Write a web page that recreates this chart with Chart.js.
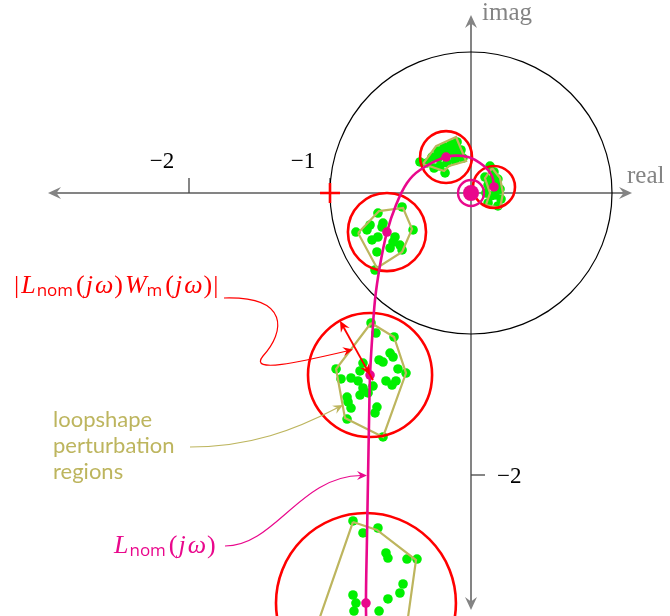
<!DOCTYPE html>
<html>
<head>
<meta charset="utf-8">
<script src="https://cdn.jsdelivr.net/npm/chart.js@4.4.0/dist/chart.umd.min.js"></script>
<style>
  html, body { margin: 0; padding: 0; background: #fff; }
  #wrap { width: 670px; height: 616px; }
</style>
</head>
<body>
<div id="wrap"><canvas id="nyquist" width="670" height="616"></canvas></div>
<script>
// nominal loop L_nom(jw): frequencies where the uncertainty disc is shown
var nomPoints = [
  [-0.177, 0.255], [0.163, 0.043], [-0.596, -0.277], [-0.716, -1.291], [-0.745, -2.908]
];
// |L_nom W_m| at those frequencies (disc radius)
var discRadius = [0.184, 0.149, 0.277, 0.440, 0.638];
var endRadius = 0.092;

// the nominal Nyquist curve, from low to high frequency
var nomCurve = [
  [-0.738, -3.241], [-0.745, -2.908], [-0.738, -2.461], [-0.730, -2.000], [-0.723, -1.610],
  [-0.716, -1.291], [-0.702, -1.043], [-0.681, -0.759], [-0.645, -0.511], [-0.596, -0.277],
  [-0.532, -0.085], [-0.454, 0.071], [-0.362, 0.163], [-0.177, 0.255], [-0.021, 0.255],
  [0.092, 0.191], [0.149, 0.121], [0.163, 0.043]
];

// perturbed plants, sampled at the same frequencies
var perturbed = [
  // around -0.18+0.26j
  [-0.362, 0.220], [-0.312, 0.213], [-0.277, 0.255], [-0.234, 0.298], [-0.191, 0.326],
  [-0.142, 0.348], [-0.099, 0.362], [-0.071, 0.305], [-0.057, 0.248], [-0.113, 0.234],
  [-0.170, 0.213], [-0.220, 0.191], [-0.184, 0.142], [-0.262, 0.177], [-0.135, 0.291],
  [-0.177, 0.291], [-0.092, 0.291], [-0.234, 0.248], [-0.205, 0.270], [-0.120, 0.320],
  // around 0.16+0.04j
  [0.135, 0.191], [0.163, 0.149], [0.191, 0.099], [0.206, 0.028], [0.213, -0.043],
  [0.191, -0.092], [0.121, -0.071], [0.142, -0.021], [0.121, 0.057], [0.099, 0.113],
  [0.170, -0.014], [0.106, 0.000], [0.185, 0.060], [0.150, 0.095],
  // around -0.60-0.28j
  [-0.489, -0.099], [-0.660, -0.142], [-0.716, -0.227], [-0.624, -0.213], [-0.816, -0.277],
  [-0.738, -0.262], [-0.660, -0.312], [-0.539, -0.312], [-0.411, -0.262], [-0.504, -0.369],
  [-0.574, -0.390], [-0.667, -0.418], [-0.489, -0.404], [-0.553, -0.348], [-0.681, -0.546],
  [-0.631, -0.241], [-0.702, -0.333],
  // around -0.72-1.29j
  [-0.709, -0.922], [-0.674, -0.993], [-0.546, -1.021], [-0.574, -1.135], [-0.553, -1.163],
  [-0.652, -1.184], [-0.624, -1.199], [-0.766, -1.206], [-0.787, -1.262], [-0.957, -1.248],
  [-0.922, -1.319], [-0.851, -1.312], [-0.801, -1.333], [-0.518, -1.248], [-0.461, -1.277],
  [-0.603, -1.333], [-0.532, -1.333], [-0.560, -1.362], [-0.695, -1.369], [-0.766, -1.383],
  [-0.787, -1.433], [-0.879, -1.447], [-0.872, -1.482], [-0.851, -1.525], [-0.667, -1.518],
  [-0.681, -1.560], [-0.879, -1.603], [-0.624, -1.730], [-0.730, -1.418],
  // around -0.75-2.91j
  [-0.837, -2.326], [-0.766, -2.411], [-0.660, -2.376], [-0.603, -2.553], [-0.589, -2.589],
  [-0.454, -2.596], [-0.383, -2.596], [-0.482, -2.773], [-0.504, -2.837], [-0.589, -2.879],
  [-0.837, -2.851], [-0.816, -2.908], [-0.830, -2.965], [-0.652, -2.965]
];

// loopshape perturbation regions (hulls of the perturbed points)
var regions = [
  [[-0.340, 0.206], [-0.248, 0.333], [-0.106, 0.397], [-0.035, 0.227], [-0.156, 0.191], [-0.191, 0.156], [-0.340, 0.206]],
  [[0.149, 0.177], [0.206, 0.106], [0.227, 0.000], [0.206, -0.106], [0.106, -0.085], [0.135, 0.000], [0.099, 0.106], [0.149, 0.177]],
  [[-0.801, -0.284], [-0.652, -0.128], [-0.482, -0.106], [-0.418, -0.255], [-0.489, -0.418], [-0.667, -0.532], [-0.801, -0.284]],
  [[-0.709, -0.922], [-0.546, -1.021], [-0.461, -1.277], [-0.624, -1.730], [-0.894, -1.596], [-0.957, -1.248], [-0.709, -0.922]],
  [[-0.837, -2.333], [-0.667, -2.390], [-0.390, -2.603], [-0.489, -3.312], [-1.177, -3.312], [-0.837, -2.333]]
];

var realTicks = [-2, -1];
var realTickLabels = ["\u22122", "\u22121"];
var imagTicks = [-2];
var imagTickLabels = ["\u22122"];

var MAGENTA = "#e9088c";
var OLIVE = "#bdb55e";
var GREEN = "#00f000";
var RED = "#ff0000";
var GRAY = "#848484";

function pts(list) { return list.map(function (p) { return {x: p[0], y: p[1]}; }); }

function head(ctx, x, y, ang, len, wid, color) {
  ctx.save();
  ctx.translate(x, y);
  ctx.rotate(ang);
  ctx.beginPath();
  ctx.moveTo(0, 0);
  ctx.lineTo(-len, -wid);
  ctx.lineTo(-len * 0.65, 0);
  ctx.lineTo(-len, wid);
  ctx.closePath();
  ctx.fillStyle = color;
  ctx.fill();
  ctx.restore();
}

function runs(ctx, x, y, parts, color) {
  ctx.fillStyle = color;
  ctx.textAlign = "left";
  ctx.textBaseline = "alphabetic";
  parts.forEach(function (r) {
    ctx.font = r[1];
    ctx.fillText(r[0], x, y + (r[2] || 0));
    x += ctx.measureText(r[0]).width + (r[3] || 0);
  });
}

var nyquistDeco = {
  id: "nyquistDeco",
  beforeDatasetsDraw: function (chart) {
    var ctx = chart.ctx, sx = chart.scales.x, sy = chart.scales.y;
    var x0 = sx.getPixelForValue(0), y0 = sy.getPixelForValue(0);
    var unit = sx.getPixelForValue(1) - x0;
    ctx.save();
    // axes
    ctx.strokeStyle = GRAY;
    ctx.lineWidth = 2;
    var left = sx.getPixelForValue(-3.0), right = sx.getPixelForValue(1.142);
    var top = sy.getPixelForValue(1.262), bottom = sy.getPixelForValue(-2.957);
    ctx.beginPath();
    ctx.moveTo(left + 6, y0); ctx.lineTo(right - 6, y0);
    ctx.moveTo(x0, top + 6); ctx.lineTo(x0, bottom - 6);
    ctx.stroke();
    head(ctx, right, y0, 0, 13, 6, GRAY);
    head(ctx, left, y0, Math.PI, 13, 6, GRAY);
    head(ctx, x0, top, -Math.PI / 2, 13, 6, GRAY);
    head(ctx, x0, bottom, Math.PI / 2, 13, 6, GRAY);
    // ticks
    ctx.lineWidth = 1.3;
    ctx.strokeStyle = "#444";
    realTicks.forEach(function (t) {
      var x = sx.getPixelForValue(t);
      ctx.beginPath(); ctx.moveTo(x, y0); ctx.lineTo(x, y0 - 15); ctx.stroke();
    });
    imagTicks.forEach(function (t) {
      var y = sy.getPixelForValue(t);
      ctx.beginPath(); ctx.moveTo(x0, y); ctx.lineTo(x0 + 14, y); ctx.stroke();
    });
    // axis texts
    ctx.fillStyle = GRAY;
    ctx.font = '25px "Liberation Serif"';
    ctx.textAlign = "left";
    ctx.textBaseline = "alphabetic";
    ctx.fillText("imag", x0 + 11, 20);
    ctx.fillText("real", right - 5, y0 - 10);
    ctx.fillStyle = "#000";
    ctx.font = '23px "Liberation Serif"';
    ctx.textAlign = "center";
    realTicks.forEach(function (t, i) {
      ctx.fillText(realTickLabels[i], sx.getPixelForValue(t) - 27, y0 - 25);
    });
    ctx.textAlign = "left";
    imagTicks.forEach(function (t, i) {
      ctx.fillText(imagTickLabels[i], x0 + 26, sy.getPixelForValue(t) + 8);
    });
    // unit circle
    ctx.strokeStyle = "#000";
    ctx.lineWidth = 1.2;
    ctx.beginPath();
    ctx.arc(x0, y0, unit, 0, Math.PI * 2);
    ctx.stroke();
    ctx.restore();
  },
  afterDatasetDraw: function (chart, args) {
    // uncertainty discs go over the regions, under the nominal curve
    if (args.index !== 3) return;
    var ctx = chart.ctx, sx = chart.scales.x, sy = chart.scales.y;
    var unit = sx.getPixelForValue(1) - sx.getPixelForValue(0);
    ctx.save();
    ctx.strokeStyle = RED;
    ctx.lineWidth = 2.6;
    nomPoints.forEach(function (p, i) {
      ctx.beginPath();
      ctx.arc(sx.getPixelForValue(p[0]), sy.getPixelForValue(p[1]), discRadius[i] * unit, 0, Math.PI * 2);
      ctx.stroke();
    });
    ctx.restore();
  },
  afterDatasetsDraw: function (chart) {
    var ctx = chart.ctx, sx = chart.scales.x, sy = chart.scales.y;
    var x0 = sx.getPixelForValue(0), y0 = sy.getPixelForValue(0);
    var unit = sx.getPixelForValue(1) - x0;
    ctx.save();
    // ring around the high-frequency end
    ctx.strokeStyle = MAGENTA;
    ctx.lineWidth = 2.4;
    ctx.beginPath();
    ctx.arc(x0, y0, endRadius * unit, 0, Math.PI * 2);
    ctx.stroke();
    // critical point -1
    var cx = sx.getPixelForValue(-1);
    ctx.strokeStyle = RED;
    ctx.lineWidth = 2.6;
    ctx.beginPath();
    ctx.moveTo(cx - 10, y0); ctx.lineTo(cx + 10, y0);
    ctx.moveTo(cx, y0 - 10); ctx.lineTo(cx, y0 + 10);
    ctx.stroke();
    // radius arrow on the fourth disc
    var c = nomPoints[3];
    var ax = sx.getPixelForValue(c[0]), ay = sy.getPixelForValue(c[1]);
    var ang = -119 * Math.PI / 180;
    var r = discRadius[3] * unit;
    var bx = ax + r * Math.cos(ang), by = ay + r * Math.sin(ang);
    ctx.lineWidth = 1.8;
    ctx.beginPath();
    ctx.moveTo(ax - 6 * Math.cos(ang), ay - 6 * Math.sin(ang));
    ctx.lineTo(bx - 6 * Math.cos(ang), by - 6 * Math.sin(ang));
    ctx.stroke();
    head(ctx, bx, by, ang, 11, 5, RED);
    head(ctx, ax, ay, ang + Math.PI, 11, 5, RED);

    // annotation leaders
    ctx.lineWidth = 1.2;
    ctx.strokeStyle = RED;
    ctx.beginPath();
    ctx.moveTo(224, 298);
    ctx.bezierCurveTo(290, 296, 285, 332, 263, 356);
    ctx.bezierCurveTo(248, 374, 300, 362, 347, 351);
    ctx.stroke();
    head(ctx, 353, 349.5, -0.22, 10, 4.5, RED);

    ctx.strokeStyle = OLIVE;
    ctx.beginPath();
    ctx.moveTo(190, 447);
    ctx.bezierCurveTo(250, 447, 295, 430, 337, 408);
    ctx.stroke();
    head(ctx, 343, 405, -0.5, 10, 4.5, OLIVE);

    ctx.strokeStyle = MAGENTA;
    ctx.beginPath();
    ctx.moveTo(225, 546);
    ctx.bezierCurveTo(275, 546, 300, 476, 361, 475.5);
    ctx.stroke();
    head(ctx, 367, 475.5, 0, 10, 4.5, MAGENTA);

    // labels
    var M = '26px "Liberation Serif"';
    var I = 'italic 26px "Liberation Serif"';
    var S = '17px "Open Sans"';
    runs(ctx, 14, 293, [
      ["|", M, 0, 2], ["L", I, 0, 1], ["nom", S, 3, 3], ["(", M, 0, 1], ["j", I, 0, 2], ["\u03c9", I, 0, 1], [")", M, 0, 2],
      ["W", I, 0, 0], ["m", S, 3, 3], ["(", M, 0, 1], ["j", I, 0, 2], ["\u03c9", I, 0, 1], [")", M, 0, 1], ["|", M]
    ], RED);
    runs(ctx, 114, 553, [
      ["L", I, 0, 1], ["nom", S, 3, 3], ["(", M, 0, 1], ["j", I, 0, 2], ["\u03c9", I, 0, 1], [")", M]
    ], MAGENTA);
    ctx.fillStyle = OLIVE;
    ctx.font = '22px Lato';
    ctx.textAlign = "left";
    ctx.fillText("loopshape", 53, 427);
    ctx.fillText("perturbation", 53, 453);
    ctx.fillText("regions", 53, 479);
    ctx.restore();
  }
};

// drawn back to front: green samples, regions, (discs), curve, markers
var datasets = [
  { label: "end", data: pts([[0, 0]]), pointRadius: 8, pointBackgroundColor: MAGENTA, pointBorderWidth: 0, showLine: false },
  { label: "nominal points", data: pts(nomPoints), pointRadius: 4.8, pointBackgroundColor: MAGENTA, pointBorderWidth: 0, showLine: false },
  { label: "L_nom", data: pts(nomCurve), showLine: true, borderColor: MAGENTA, borderWidth: 2.6, tension: 0.35, pointRadius: 0, fill: false }
];
regions.forEach(function (reg, i) {
  datasets.push({ label: "region " + (i + 1), data: pts(reg), showLine: true, borderColor: OLIVE, borderWidth: 2.2, tension: 0, pointRadius: 0, fill: false });
});
datasets.push({ label: "perturbed", data: pts(perturbed), pointRadius: 4.8, pointBackgroundColor: GREEN, pointBorderWidth: 0, showLine: false });

new Chart("nyquist", {
  type: "scatter",
  data: { datasets: datasets },
  options: {
    responsive: false,
    animation: false,
    events: [],
    layout: { padding: 0, autoPadding: false },
    plugins: { legend: { display: false }, tooltip: { enabled: false } },
    scales: {
      x: { type: "linear", display: false, min: -3.3404, max: 1.4113 },
      y: { type: "linear", display: false, min: -3.0, max: 1.3688 }
    }
  },
  plugins: [nyquistDeco]
});
</script>
</body>
</html>
